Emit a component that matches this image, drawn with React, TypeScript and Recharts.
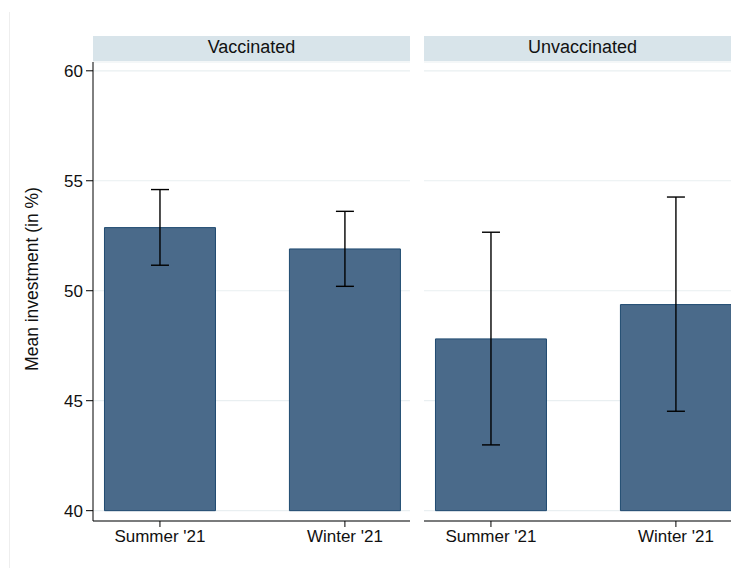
import React from "react";
import { BarChart, Bar, XAxis, YAxis, CartesianGrid, ErrorBar } from "recharts";

const categories = ["Summer '21", "Winter '21"];
const panelTitles = ["Vaccinated", "Unvaccinated"];
const vaccinatedMean = [52.87, 51.9];
const vaccinatedLow = [51.16, 50.2];
const vaccinatedHigh = [54.6, 53.61];
const unvaccinatedMean = [47.81, 49.37];
const unvaccinatedLow = [42.99, 44.52];
const unvaccinatedHigh = [52.66, 54.26];
const yTicks = [40, 45, 50, 55, 60];
const barBase = 40;
const yLabel = "Mean investment (in %)";

const FONT = "'Liberation Sans', Arial, Helvetica, sans-serif";
const BAR_FILL = "#4a6a8a";
const BAR_STROKE = "#1f4a70";
const GRID = "#e9eff1";
const STRIP = "#d8e4ea";

function buildRows(mean: number[], low: number[], high: number[]) {
  return categories.map((c, i) => ({
    pos: i + 1,
    label: c,
    range: [barBase, mean[i]],
    err: [mean[i] - low[i], high[i] - mean[i]],
  }));
}

const vaccinatedData = buildRows(vaccinatedMean, vaccinatedLow, vaccinatedHigh);
const unvaccinatedData = buildRows(unvaccinatedMean, unvaccinatedLow, unvaccinatedHigh);

const X_DOMAIN: [number, number] = [0.638, 2.352];
const Y_DOMAIN: [number, number] = [39.53, 60.4];

function Panel({ data, showY, width }: { data: any[]; showY: boolean; width: number }) {
  return (
    <BarChart
      width={width}
      height={568}
      data={data}
      margin={{ top: 62, right: 0, bottom: 0, left: 0 }}
      style={{ fontFamily: FONT }}
    >
      <CartesianGrid horizontal vertical={false} stroke={GRID} strokeWidth={1.2} />
      <XAxis
        type="number"
        dataKey="pos"
        domain={X_DOMAIN}
        ticks={[1, 2]}
        allowDataOverflow
        interval={0}
        height={47}
        tickSize={6}
        tickMargin={3}
        stroke="#000"
        tick={{ fill: "#111", fontSize: 17, fontFamily: FONT }}
        tickFormatter={(v: number) => categories[v - 1]}
      />
      <YAxis
        type="number"
        domain={Y_DOMAIN}
        ticks={yTicks}
        allowDataOverflow
        hide={!showY}
        width={showY ? 93 : 0}
        tickSize={7}
        tickMargin={3}
        stroke="#000"
        tick={{ fill: "#111", fontSize: 17, fontFamily: FONT }}
      />
      <Bar
        dataKey="range"
        barSize={111}
        fill={BAR_FILL}
        stroke={BAR_STROKE}
        strokeWidth={1}
        isAnimationActive={false}
      >
        <ErrorBar dataKey="err" direction="y" width={9} stroke="#000" strokeWidth={1.4} />
      </Bar>
    </BarChart>
  );
}

export default function App() {
  return (
    <div
      style={{
        position: "absolute",
        left: 0,
        top: 0,
        width: 731,
        height: 568,
        overflow: "hidden",
        background: "#fff",
      }}
    >
      <div style={{ position: "absolute", left: 0, top: 0 }}>
        <Panel data={vaccinatedData} showY width={410} />
      </div>
      <div style={{ position: "absolute", left: 424, top: 0 }}>
        <Panel data={unvaccinatedData} showY={false} width={317} />
      </div>
      <svg
        width={731}
        height={568}
        style={{ position: "absolute", left: 0, top: 0, pointerEvents: "none", fontFamily: FONT }}
      >
        <line x1={9.5} y1={12} x2={9.5} y2={568} stroke="#eeeeee" strokeWidth={1} />
        <rect x={93} y={36} width={317} height={25} fill={STRIP} />
        <rect x={424} y={36} width={317} height={25} fill={STRIP} />
        <text x={251.5} y={52.5} textAnchor="middle" fontSize={18} fill="#111">
          {panelTitles[0]}
        </text>
        <text x={582.5} y={52.5} textAnchor="middle" fontSize={18} fill="#111">
          {panelTitles[1]}
        </text>
        <text
          x={0}
          y={0}
          transform="translate(37.5,279) rotate(-90)"
          textAnchor="middle"
          fontSize={17.5}
          fill="#111"
        >
          {yLabel}
        </text>
      </svg>
    </div>
  );
}
